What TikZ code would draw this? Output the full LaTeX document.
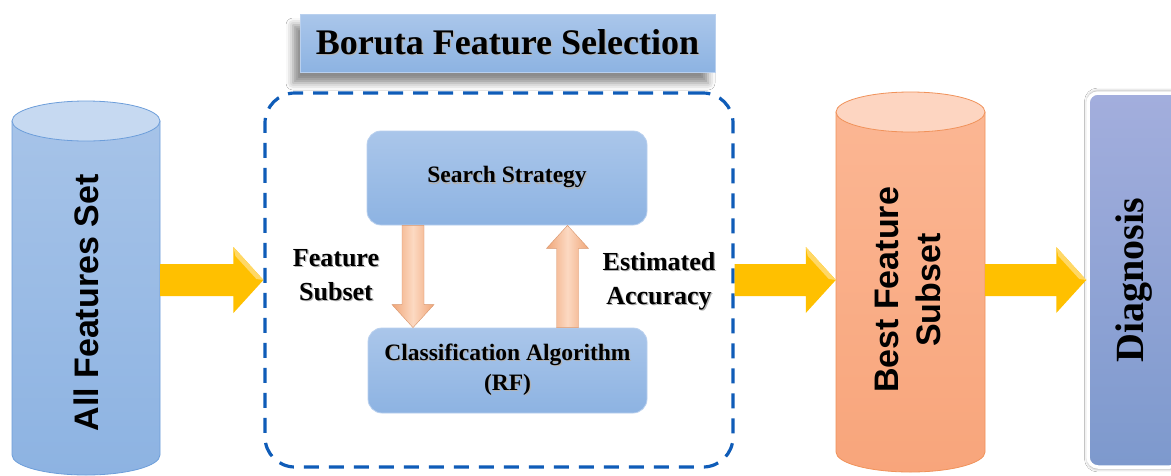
\documentclass[tikz,border=0pt]{standalone}
\usepackage{fontspec}
\setmainfont{Liberation Serif}
\newfontfamily\sansfont{Liberation Sans}
\usetikzlibrary{calc,shadows.blur}

\definecolor{boxTop}{HTML}{AAC6EA}
\definecolor{boxBot}{HTML}{8DB3E2}
\definecolor{boxEdge}{HTML}{B9D0EE}
\definecolor{cylBlueTop}{HTML}{C6D9F1}
\definecolor{cylBlueA}{HTML}{A6C3E8}
\definecolor{cylBlueB}{HTML}{8DB3E2}
\definecolor{cylBlueEdge}{HTML}{6D9EDA}
\definecolor{cylOrgTop}{HTML}{FDD5C1}
\definecolor{cylOrgA}{HTML}{FBB693}
\definecolor{cylOrgB}{HTML}{F8A57B}
\definecolor{cylOrgEdge}{HTML}{F0925A}
\definecolor{dashBlue}{HTML}{0F5CB8}
\definecolor{arrowYel}{HTML}{FFC000}
\definecolor{arrowYelLt}{HTML}{FFD866}
\definecolor{salDark}{HTML}{F0A678}
\definecolor{salLight}{HTML}{FCD9C2}
\definecolor{diagTop}{HTML}{A3AEDD}
\definecolor{diagBot}{HTML}{7D99CD}

% shaded text helper: a soft grey copy behind the glyphs
\newcommand\shtext[1]{\leavevmode\rlap{\color{black!30}\kern1.2pt\raisebox{-1.2pt}{#1}}#1}

% wide horizontal block arrow between two points
\newcommand\hblockarrow[2]{%
  \fill[arrowYel] let \p1=(#1), \p2=(#2) in
    (\x1,\y1+16pt) -- (\x2-30pt,\y1+16pt) -- (\x2-30pt,\y1+33pt) -- (\x2,\y1)
    -- (\x2-30pt,\y1-33pt) -- (\x2-30pt,\y1-16pt) -- (\x1,\y1-16pt) -- cycle;
  \fill[arrowYelLt] let \p1=(#1), \p2=(#2) in
    (\x2-30pt,\y1+33pt) -- (\x2,\y1) -- (\x2-7pt,\y1+1pt) -- (\x2-28pt,\y1+24pt) -- cycle;}

% narrow vertical block arrow; #3 is the signed head length
\newcommand\vblockarrow[3]{%
  \path[salarrow] let \p1=(#1), \p2=(#2) in
    (\x1-11pt,\y1) -- (\x1-11pt,\y2#3) -- (\x1-21pt,\y2#3) -- (\x1,\y2)
    -- (\x1+21pt,\y2#3) -- (\x1+11pt,\y2#3) -- (\x1+11pt,\y1) -- cycle;}

\begin{document}
\begin{tikzpicture}[x=1pt,y=-1pt,
  bluebox/.style={rectangle, rounded corners=14pt, top color=boxTop, bottom color=boxBot,
    draw=boxEdge, line width=0.8pt, inner sep=0pt, align=center},
  serifb/.style={font=\bfseries\fontsize{23.5}{30}\selectfont},
  labeltxt/.style={align=center, inner sep=0pt, font=\bfseries\fontsize{26}{34}\selectfont},
  sanstxt/.style={inner sep=0pt, font=\sansfont\bfseries\fontsize{34}{45}\selectfont},
  salarrow/.style={left color=salDark, right color=salDark, middle color=salLight,
    draw=salDark!90!black, line width=0.4pt},
]
\useasboundingbox (0,0) rectangle (1171,475);
\fill[white] (0,0) rectangle (1171,475);

% ---- input data store (blue cylinder)
\path[top color=cylBlueA, bottom color=cylBlueB, draw=cylBlueEdge, line width=0.8pt]
  (12,121) -- (12,455) arc[start angle=180, end angle=360, x radius=74pt, y radius=20pt]
  -- (160,121) -- cycle;
\path[fill=cylBlueTop, draw=cylBlueEdge, line width=0.8pt]
  (86,121) ellipse[x radius=74pt, y radius=20pt];
\node[sanstxt, minimum width=148pt, minimum height=300pt] (allset) at (86,303)
  {\rotatebox{90}{All Features Set}};

% ---- output data store (orange cylinder)
\path[top color=cylOrgA, bottom color=cylOrgB, draw=cylOrgEdge, line width=0.8pt]
  (836,112) -- (836,452) arc[start angle=180, end angle=360, x radius=74.5pt, y radius=20pt]
  -- (985,112) -- cycle;
\path[fill=cylOrgTop, draw=cylOrgEdge, line width=0.8pt]
  (910.5,112) ellipse[x radius=74.5pt, y radius=20pt];
\node[sanstxt, align=center, minimum width=149pt, minimum height=300pt] (best) at (910.5,290)
  {\rotatebox{90}{\begin{tabular}{@{}c@{}}Best Feature\\[-3pt] Subset\end{tabular}}};

% ---- title banner
\node[rectangle, top color=boxTop, bottom color=boxBot, draw=boxEdge, line width=1pt,
  minimum width=415pt, minimum height=58pt, inner sep=0pt,
  blur shadow={shadow xshift=-7pt, shadow yshift=-11pt, shadow opacity=45, shadow blur radius=7pt},
  font=\bfseries\fontsize{36}{40}\selectfont] (title) at (507.5,43)
  {\shtext{Boruta Feature Selection}};

% ---- dashed frame around the selection loop
\node[rectangle, rounded corners=30pt, draw=dashBlue, line width=3.2pt,
  dash pattern=on 15pt off 10pt, minimum width=468pt, minimum height=374pt] (boruta) at (499,280) {};

% ---- inner loop boxes
\node[bluebox, serifb, minimum width=280pt, minimum height=94pt] (search) at (507,178)
  {\shtext{Search Strategy}};
\node[bluebox, serifb, minimum width=279pt, minimum height=85pt] (algo) at (507.5,370.5)
  {\shtext{Classification Algorithm}\\\shtext{(RF)}};

% ---- loop arrows
\vblockarrow{[xshift=-94pt]search.south}{[xshift=-94pt]algo.north}{+23pt}
\vblockarrow{[xshift=60pt]algo.north}{[xshift=60pt]search.south}{-23pt}

\node[labeltxt] (fslabel) at (336,276) {\shtext{Feature}\\\shtext{Subset}};
\node[labeltxt] (ealabel) at (659,282) {\shtext{Estimated}\\\shtext{Accuracy}};

% ---- final stage
\node[rectangle, rounded corners=10pt, top color=diagTop, bottom color=diagBot,
  draw=white, line width=3.5pt, minimum width=92pt, minimum height=374pt, inner sep=0pt,
  blur shadow={shadow xshift=0pt, shadow yshift=0pt, shadow scale=1.01, shadow opacity=40, shadow blur radius=3pt},
  font=\bfseries\fontsize{40}{44}\selectfont] (diag) at (1134,280)
  {\rotatebox{90}{Diagnosis}};

% ---- main flow arrows
\hblockarrow{allset.east |- boruta.west}{boruta.west}
\hblockarrow{boruta.east}{best.west |- boruta.east}
\hblockarrow{best.east |- boruta.east}{diag.west}
\end{tikzpicture}
\end{document}
